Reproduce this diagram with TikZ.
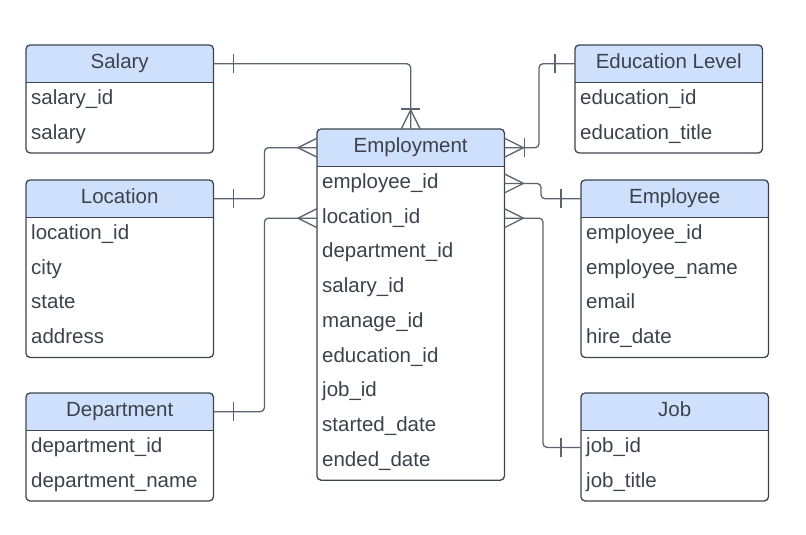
\documentclass[tikz,border=0pt]{standalone}
\usepackage{fontspec}
\setmainfont{Liberation Sans}
\usepackage{tikz}
\usetikzlibrary{arrows.meta}
\usetikzlibrary{backgrounds, calc, positioning}
\usetikzlibrary{decorations, decorations.markings}
\definecolor{headblue}{HTML}{CFE0FC}
\definecolor{framegray}{HTML}{3E444D}
\definecolor{linkgray}{HTML}{5C636C}
\definecolor{txtgray}{HTML}{3C424C}
\tikzset{
    head/.style={inner sep=0pt, minimum width=187pt, minimum height=37pt,
        text height=14pt, text depth=4pt, text=txtgray, font=\fontsize{20.5}{24}\selectfont},
    field/.style={anchor=west, inner sep=0pt,
        text height=14pt, text depth=4pt, text=txtgray, font=\fontsize{20.5}{24}\selectfont},
    frame/.style={draw=framegray, line width=1.3pt},
    link/.style={draw=linkgray, line width=1.3pt, rounded corners=4pt}
}
\tikzset{
    one/.style={
        postaction={decorate, decoration={markings,
            mark= at position 20pt with
                {
                    \draw[linkgray, line width=1.3pt, sharp corners] (0,-9.5pt) -- (0,9.5pt);
                }}}
    },
    many/.style={
        postaction={decorate, decoration={markings,
            mark= at position -19pt with
                {
                    \draw[linkgray, line width=1.3pt, sharp corners] (19pt,9.5pt) -- (0,0) -- (19pt,-9.5pt);
                }}}
    },
    onemany/.style={many,
        postaction={decorate, decoration={markings,
            mark= at position -20pt with
                {
                    \draw[linkgray, line width=1.3pt, sharp corners] (0,-9.5pt) -- (0,9.5pt);
                }}}
    }
}
% #1 name, #2 x, #3 y, #4 title, #5 rows
\newcommand{\entity}[5]{
    \node[head, anchor=north west] (#1) at (#2,#3) {#4};
    \foreach \f [count=\i] in {#5}{
        \node[field] (#1-\i) at ($(#1.south west)+(5,{17+(\i-1)*34.75})$) {\f};
        \coordinate (#1-bot) at ($(#1.south east)+(0,{\i*34.75+1})$);
    }
    \begin{scope}[on background layer]
    \fill[headblue] (#1.south west) [rounded corners=4pt] -- (#1.north west) -- (#1.north east) [sharp corners] -- (#1.south east) -- cycle;
    \end{scope}
    \draw[frame] (#1.south west) -- (#1.south east);
    \draw[frame, rounded corners=4pt] (#1.north west) rectangle (#1-bot);
}
\begin{document}
\begin{tikzpicture}[x=1pt, y=-1pt]
    \useasboundingbox (0,0) rectangle (806,535);
    \entity{sal}{26}{45}{Salary}{salary\_id, salary}
    \entity{loc}{26}{180}{Location}{location\_id, city, state, address}
    \entity{dep}{26}{393}{Department}{department\_id, department\_name}
    \entity{emp}{317}{129}{Employment}{employee\_id, location\_id, department\_id, salary\_id, manage\_id, education\_id, job\_id, started\_date, ended\_date}
    \entity{edu}{575}{45}{Education Level}{education\_id, education\_title}
    \entity{empl}{581}{180}{Employee}{employee\_id, employee\_name, email, hire\_date}
    \entity{job}{581}{393}{Job}{job\_id, job\_title}
    % relations
    \draw[link, one, onemany] (sal.east) -| (emp.north);
    \draw[link, one, many] (loc.east) -- ++(51,0) |- (emp.west);
    \draw[link, one, many] (dep.east) -- ++(51,0) |- (emp.south west |- emp-2);
    \draw[link, one, onemany] (edu.west) -- ++(-36,0) |- (emp.east);
    \draw[link, one, many] (empl.west) -- ++(-40,0) |- (emp.south east |- emp-1);
    \draw[link, one, many] (job.south west |- job-1) -- ++(-38,0) |- (emp.south east |- emp-2);
\end{tikzpicture}
\end{document}
